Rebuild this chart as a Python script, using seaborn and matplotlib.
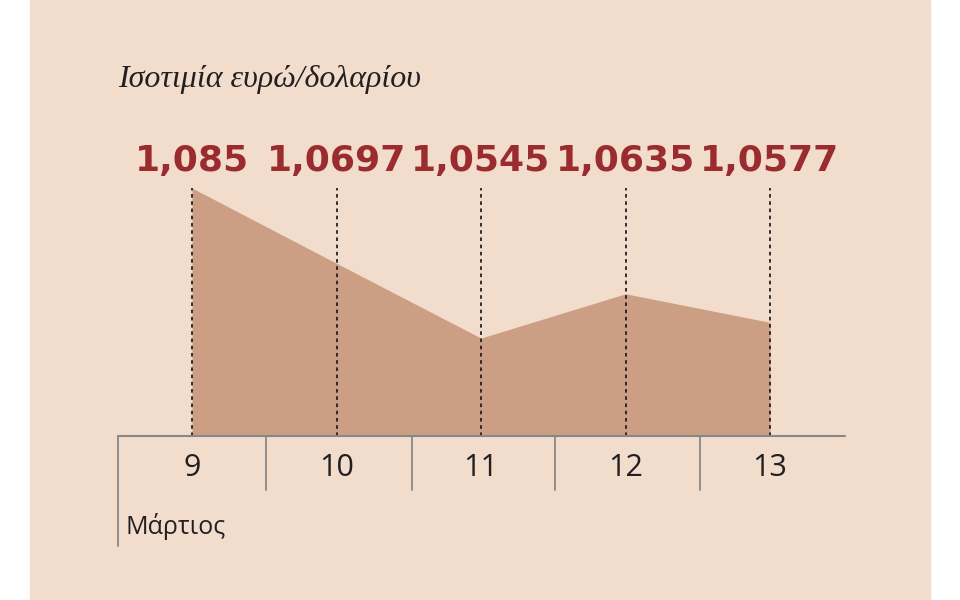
import matplotlib
matplotlib.use("Agg")
import matplotlib.pyplot as plt
import seaborn as sns
import pandas as pd
from matplotlib.patches import Rectangle

days = [9, 10, 11, 12, 13]
rates = [1.085, 1.0697, 1.0545, 1.0635, 1.0577]
labels = ["1,085", "1,0697", "1,0545", "1,0635", "1,0577"]
df = pd.DataFrame({"day": days, "rate": rates})

bg = "#f2dccc"
fill = "#cc9f84"
red = "#9a2c30"
dark = "#231f20"

sns.set_style("white")
W, H = 960, 600
fig = plt.figure(figsize=(9.6, 6), dpi=100)
fig.patches.append(Rectangle((30 / W, 0), 900 / W, 1, transform=fig.transFigure,
                             color=bg, zorder=-10))

# axes spans px x 118..845, y 188..436
ax = fig.add_axes([118 / W, 1 - 436 / H, 727 / W, 248 / H])
ax.set_facecolor("none")
x0, x1 = 9 - 74 / 144.5, 13 + 75 / 144.5
ybase = 1.0346
ax.set_xlim(x0, x1)
ax.set_ylim(ybase, 1.085)

sns.lineplot(data=df, x="day", y="rate", ax=ax, linewidth=0, color=fill)
ax.fill_between(df["day"], df["rate"], ybase, color=fill, linewidth=0, zorder=1)
for d, r, lab in zip(days, rates, labels):
    ax.plot([d, d], [ybase, 1.085], ls=(0, (2, 2)), color=dark, lw=1.3, zorder=2)
    ax.text(d, 1.085 + 0.0055, lab, ha="center", va="center", color=red,
            fontsize=26, fontweight="bold", family=["Liberation Sans Narrow", "DejaVu Sans"],
            clip_on=False)
for s in ax.spines.values():
    s.set_visible(False)
ax.axhline(ybase, color="#888888", lw=1.5, clip_on=False)
ax.set_xticks([]); ax.set_yticks([])
ax.set_xlabel(""); ax.set_ylabel("")

# separators and day labels below axis (figure pixels)
def fx(px): return px / W
def fy(py): return 1 - py / H
for sx in [266, 412, 555, 700]:
    fig.add_artist(plt.Line2D([fx(sx), fx(sx)], [fy(436), fy(490)], color="#888888", lw=1.3))
fig.add_artist(plt.Line2D([fx(118), fx(118)], [fy(436), fy(546)], color="#888888", lw=1.3))
for d in days:
    ax.text(d, ybase - 0.0066, str(d), ha="center", va="center", fontsize=22,
            color=dark, family="Open Sans", clip_on=False)

fig.text(fx(118), fy(80), "Ισοτιμία ευρώ/δολαρίου", ha="left", va="center",
         fontsize=23, style="italic", family="Liberation Serif", color=dark)
fig.text(fx(126), fy(527), "Μάρτιος", ha="left", va="center", fontsize=18,
         family="Open Sans", color=dark)

fig.savefig("out.png", dpi=100, facecolor="white")
